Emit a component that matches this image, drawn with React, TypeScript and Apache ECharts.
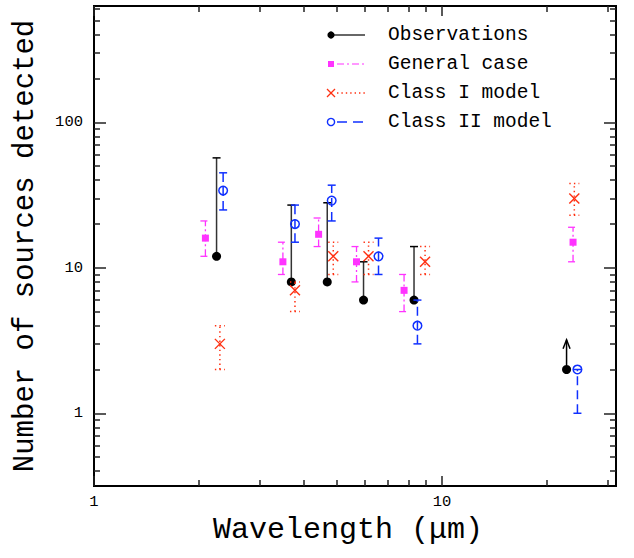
import React, { useEffect, useRef } from 'react';
import * as echarts from 'echarts';

// ---- data ----
const obsX = [2.25, 3.69, 4.68, 5.95, 8.31, 22.8];
const obsY = [12, 8, 8, 6, 6, 2];
const obsHigh = [57, 27, 28, 11, 14, null];
const obsArrowTip = [null, null, null, null, null, 3.2];

const genX = [2.09, 3.49, 4.42, 5.68, 7.78, 23.8];
const genY = [16, 11, 17, 11, 7, 15];
const genLow = [12, 9, 14, 8, 5, 11];
const genHigh = [21, 15, 22, 14, 9, 19];

const c1X = [2.3, 3.78, 4.87, 6.15, 8.94, 24.0];
const c1Y = [3, 7, 12, 12, 11, 30];
const c1Low = [2, 5, 9, 9, 9, 23];
const c1High = [4, 8, 15, 15, 14, 38];

const c2X = [2.35, 3.78, 4.82, 6.57, 8.5, 24.5];
const c2Y = [34, 20, 29, 12, 4, 2];
const c2Low = [25, 15, 21, 9, 3, 1];
const c2High = [45, 27, 37, 16, 6, 2];

const xMajorTicks = [1, 10];
const xMinorTicks = [2, 3, 4, 5, 6, 7, 8, 9, 20, 30];
const yMajorTicks = [1, 10, 100];
const yMinorTicks = [0.4, 0.5, 0.6, 0.7, 0.8, 0.9, 2, 3, 4, 5, 6, 7, 8, 9, 20, 30, 40, 50, 60, 70, 80, 90, 200, 300, 400, 500, 600];
const xTickLabels = ['1', '10'];
const yTickLabels = ['1', '10', '100'];

const legendNames = ['Observations', 'General case', 'Class I model', 'Class II model'];

const X_MIN = 1;
const X_MAX = Math.pow(10, 1.5);
const Y_MIN = Math.pow(10, -0.5);
const Y_MAX = Math.pow(10, 2.8);

const FONT = '"Liberation Mono", "DejaVu Sans Mono", monospace';

const COL_OBS = '#000000';
const COL_OBS_LINE = '#333333';
const COL_GEN = '#ff33ff';
const COL_C1 = '#ff3011';
const COL_C2 = '#1030ff';
const COL_TICK = '#222222';

type Marker = 'dot' | 'square' | 'cross' | 'ring';

function num(v: any) {
  return v === null || v === undefined || Number.isNaN(v) ? NaN : Number(v);
}

function errSeries(
  name: string,
  xs: number[],
  ys: number[],
  lows: (number | null)[],
  highs: (number | null)[],
  color: string,
  lineColor: string,
  dash: number[] | null,
  lineWidth: number,
  capW: number,
  marker: Marker,
  capLow: boolean,
  arrows?: (number | null)[]
) {
  const data = xs.map((x, i) => [x, ys[i], lows[i] ?? NaN, highs[i] ?? NaN, arrows ? arrows[i] ?? NaN : NaN]);
  return {
    type: 'custom',
    name,
    data,
    xAxisIndex: 0,
    yAxisIndex: 0,
    clip: false,
    z: 3,
    renderItem: (params: any, api: any) => {
      const x = api.value(0);
      const y = api.value(1);
      const lo = num(api.value(2));
      const hi = num(api.value(3));
      const ar = num(api.value(4));
      const pc = api.coord([x, y]);
      const children: any[] = [];
      const mk = () => {
        const s: any = { stroke: lineColor, lineWidth, fill: null };
        if (dash) s.lineDash = dash.slice();
        return s;
      };
      const mkCap = () => {
        const s: any = { stroke: marker === 'dot' ? '#000' : lineColor, lineWidth, fill: null };
        if (dash) s.lineDash = dash.slice();
        return s;
      };
      if (!Number.isNaN(lo) && !Number.isNaN(hi)) {
        const pl = api.coord([x, lo]);
        const ph = api.coord([x, hi]);
        children.push({ type: 'line', shape: { x1: pc[0], y1: pl[1], x2: pc[0], y2: ph[1] }, style: mk() });
        children.push({ type: 'line', shape: { x1: pc[0] - capW / 2, y1: ph[1], x2: pc[0] + capW / 2, y2: ph[1] }, style: mkCap() });
        if (capLow) {
          children.push({ type: 'line', shape: { x1: pc[0] - capW / 2, y1: pl[1], x2: pc[0] + capW / 2, y2: pl[1] }, style: mkCap() });
        }
      }
      if (!Number.isNaN(ar)) {
        const pa = api.coord([x, ar]);
        children.push({ type: 'line', shape: { x1: pc[0], y1: pc[1], x2: pc[0], y2: pa[1] }, style: { stroke: '#000', lineWidth: 1.5 } });
        children.push({
          type: 'polyline',
          shape: { points: [[pc[0] - 3.5, pa[1] + 9], [pc[0], pa[1]], [pc[0] + 3.5, pa[1] + 9]] },
          style: { stroke: '#000', lineWidth: 1.5, fill: null },
        });
      }
      if (marker === 'dot') {
        children.push({ type: 'circle', shape: { cx: pc[0], cy: pc[1], r: 4.5 }, style: { fill: color } });
      } else if (marker === 'square') {
        children.push({ type: 'rect', shape: { x: pc[0] - 3.5, y: pc[1] - 3.5, width: 7, height: 7 }, style: { fill: color } });
      } else if (marker === 'cross') {
        const s = 5;
        children.push({ type: 'line', shape: { x1: pc[0] - s, y1: pc[1] - s, x2: pc[0] + s, y2: pc[1] + s }, style: { stroke: color, lineWidth: 1.4 } });
        children.push({ type: 'line', shape: { x1: pc[0] - s, y1: pc[1] + s, x2: pc[0] + s, y2: pc[1] - s }, style: { stroke: color, lineWidth: 1.4 } });
      } else {
        children.push({ type: 'circle', shape: { cx: pc[0], cy: pc[1], r: 4.3 }, style: { fill: null, stroke: color, lineWidth: 1.5 } });
      }
      return { type: 'group', children };
    },
  };
}

function labelFormatter(values: number[], labels: string[]) {
  return (v: number) => {
    const i = values.findIndex((t) => Math.abs(t - v) / t < 1e-6);
    return i >= 0 ? labels[i] : '';
  };
}

function tickAxis(dim: 'x' | 'y', position: string, values: number[], len: number, labels: string[] | null, extra: any = {}) {
  const isX = dim === 'x';
  return {
    type: 'log',
    logBase: 10,
    position,
    min: isX ? X_MIN : Y_MIN,
    max: isX ? X_MAX : Y_MAX,
    axisLine: { show: true, lineStyle: { color: '#000', width: 2 } },
    splitLine: { show: false },
    axisTick: { show: true, inside: true, length: len, customValues: values, lineStyle: { color: COL_TICK, width: 1.5 } },
    axisLabel: labels
      ? {
          show: true,
          customValues: values,
          margin: isX ? 8 : 11,
          fontSize: 15.5,
          fontFamily: FONT,
          color: '#000',
          formatter: labelFormatter(values, labels),
        }
      : { show: false },
    ...extra,
  };
}

function legendGraphics() {
  const x0 = 331;
  const lx1 = 337;
  const lx2 = 365;
  const tx = 388;
  const ys = [35, 64, 93, 122];
  const els: any[] = [];
  els.push({ type: 'line', shape: { x1: lx1 - 4, y1: ys[0], x2: lx2, y2: ys[0] }, style: { stroke: '#000', lineWidth: 1.2 } });
  els.push({ type: 'circle', shape: { cx: x0, cy: ys[0], r: 3.6 }, style: { fill: COL_OBS } });
  els.push({ type: 'line', shape: { x1: lx1, y1: ys[1], x2: lx2, y2: ys[1] }, style: { stroke: COL_GEN, lineWidth: 1.2, lineDash: [7, 3, 2, 3] } });
  els.push({ type: 'rect', shape: { x: x0 - 3, y: ys[1] - 3, width: 6, height: 6 }, style: { fill: COL_GEN } });
  els.push({ type: 'line', shape: { x1: lx1, y1: ys[2], x2: lx2, y2: ys[2] }, style: { stroke: COL_C1, lineWidth: 1.4, lineDash: [1.4, 3] } });
  els.push({ type: 'line', shape: { x1: x0 - 4, y1: ys[2] - 4, x2: x0 + 4, y2: ys[2] + 4 }, style: { stroke: COL_C1, lineWidth: 1.3 } });
  els.push({ type: 'line', shape: { x1: x0 - 4, y1: ys[2] + 4, x2: x0 + 4, y2: ys[2] - 4 }, style: { stroke: COL_C1, lineWidth: 1.3 } });
  els.push({ type: 'line', shape: { x1: lx1, y1: ys[3], x2: lx2, y2: ys[3] }, style: { stroke: COL_C2, lineWidth: 1.3, lineDash: [10, 6] } });
  els.push({ type: 'circle', shape: { cx: x0, cy: ys[3], r: 3.6 }, style: { fill: '#fff', stroke: COL_C2, lineWidth: 1.4 } });
  legendNames.forEach((n, i) => {
    els.push({
      type: 'text',
      x: tx,
      y: ys[i],
      style: { text: n, fontSize: 19.5, fontFamily: FONT, fill: '#000', align: 'left', verticalAlign: 'middle' },
    });
  });
  return els;
}

export default function App() {
  const ref = useRef<HTMLDivElement>(null);
  useEffect(() => {
    document.body.style.margin = '0';
    if (!ref.current) return;
    const chart = echarts.init(ref.current, null, { renderer: 'svg' });
    const option: any = {
      animation: false,
      backgroundColor: '#ffffff',
      grid: { left: 94, right: 18, top: 6, bottom: 72, show: true, borderColor: '#000', borderWidth: 2, backgroundColor: 'transparent' },
      xAxis: [
        tickAxis('x', 'bottom', xMajorTicks, 10, xTickLabels, {
          name: 'Wavelength (\u03bcm)',
          nameLocation: 'middle',
          nameGap: 25,
          nameTextStyle: { fontSize: 30, fontFamily: FONT, color: '#000', padding: [0, 14, 0, 0] },
        }),
        tickAxis('x', 'bottom', xMinorTicks, 6, null),
        tickAxis('x', 'top', xMajorTicks, 10, null),
        tickAxis('x', 'top', xMinorTicks, 6, null),
      ],
      yAxis: [
        tickAxis('y', 'left', yMajorTicks, 12, yTickLabels, {
          name: 'Number of sources detected',
          nameLocation: 'middle',
          nameGap: 54,
          nameRotate: 90,
          nameTextStyle: { fontSize: 29, fontFamily: FONT, color: '#000' },
        }),
        tickAxis('y', 'left', yMinorTicks, 6, null),
        tickAxis('y', 'right', yMajorTicks, 12, null),
        tickAxis('y', 'right', yMinorTicks, 6, null),
      ],
      graphic: legendGraphics(),
      series: [
        errSeries(legendNames[0], obsX, obsY, obsY, obsHigh, COL_OBS, COL_OBS_LINE, null, 1.5, 8, 'dot', false, obsArrowTip),
        errSeries(legendNames[1], genX, genY, genLow, genHigh, COL_GEN, COL_GEN, [7, 3, 2, 3], 1.3, 10, 'square', true),
        errSeries(legendNames[2], c1X, c1Y, c1Low, c1High, COL_C1, COL_C1, [1.4, 3.2], 1.5, 10, 'cross', true),
        errSeries(legendNames[3], c2X, c2Y, c2Low, c2High, COL_C2, COL_C2, [9, 5], 1.5, 8, 'ring', true),
      ],
    };
    chart.setOption(option);
    return () => chart.dispose();
  }, []);
  return <div ref={ref} style={{ width: 634, height: 558 }} />;
}
